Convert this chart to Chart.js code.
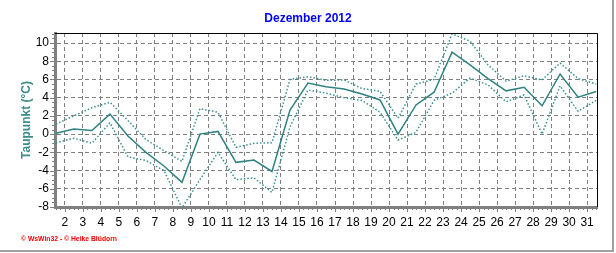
<!DOCTYPE html>
<html>
<head>
<meta charset="utf-8">
<script src="https://cdn.jsdelivr.net/npm/chart.js@4/dist/chart.umd.min.js"></script>
<style>
html, body { margin: 0; padding: 0; background: #ffffff; }
#wrap { position: relative; width: 616px; height: 253px; }
canvas { display: block; }
</style>
</head>
<body>
<div id="wrap"><canvas id="c" width="616" height="253"></canvas></div>
<script>
// ---- data ----
const chartTitle = 'Dezember 2012';
const yAxisTitle = 'Taupunkt (°C)';
const footerText = '\u00A9 WsWin32 - \u00A9 Heike Bl\u00FCdorn';

const days = [1,2,3,4,5,6,7,8,9,10,11,12,13,14,15,16,17,18,19,20,21,22,23,24,25,26,27,28,29,30,31];
const dewMean = [0.1,0.55,0.4,2.2,-0.2,-2.0,-3.5,-5.3,0.0,0.3,-3.1,-2.85,-4.1,2.65,5.6,5.2,4.95,4.4,3.75,0.0,3.2,4.6,9.0,7.6,6.1,4.75,5.15,3.1,6.6,4.05,4.67];
const dewMax  = [1.1,2.0,2.9,3.5,1.5,-0.6,-1.8,-3.0,2.8,2.4,-1.45,-1.0,-0.95,6.0,6.3,5.9,5.95,5.0,4.7,1.75,5.5,6.0,11.0,10.2,7.6,5.8,6.4,5.95,7.8,6.1,5.5];
const dewMin  = [-0.95,-0.45,-1.0,1.25,-2.5,-2.9,-4.0,-8.1,-5.0,-2.0,-5.0,-4.8,-6.4,0.8,4.85,4.5,4.0,3.7,2.4,-0.65,0.2,3.7,4.5,6.15,5.4,3.55,4.3,0.0,5.3,2.5,3.7];
const xTickLabels = [2,3,4,5,6,7,8,9,10,11,12,13,14,15,16,17,18,19,20,21,22,23,24,25,26,27,28,29,30,31];
const yTickValues = [-8,-6,-4,-2,0,2,4,6,8,10];

// daily values are plotted at the middle of their day
const toPoints = arr => days.map((d, i) => ({ x: d + 0.5, y: arr[i] }));

const teal = '#2f8282';
const tealDot = '#3a8f8f';
const FONT = 'Arial, "Liberation Sans", sans-serif';

const decor = {
  id: 'decor',
  afterDraw(chart) {
    const ctx = chart.ctx;
    const a = chart.chartArea;
    const xs = chart.scales.x, ys = chart.scales.y;
    ctx.save();
    // title
    ctx.fillStyle = '#0000ff';
    ctx.font = 'bold 12px ' + FONT;
    ctx.textAlign = 'center';
    ctx.textBaseline = 'middle';
    ctx.fillText(chartTitle, 308, 19);
    // footer
    ctx.fillStyle = '#ff0000';
    ctx.font = 'bold 7px ' + FONT;
    ctx.textAlign = 'left';
    ctx.fillText(footerText, 21, 239, 96);
    // top/right black frame
    ctx.strokeStyle = '#000000';
    ctx.lineWidth = 1;
    ctx.beginPath();
    ctx.moveTo(a.left, a.top + 0.5);
    ctx.lineTo(a.right + 0.5, a.top + 0.5);
    ctx.lineTo(a.right + 0.5, a.bottom);
    ctx.stroke();
    // minor ticks x axis
    ctx.strokeStyle = '#808080';
    ctx.beginPath();
    for (let v = Math.ceil(xs.min * 4) / 4; v <= xs.max; v += 0.25) {
      const px = Math.round(xs.getPixelForValue(v)) + 0.5;
      const isDay = Math.abs(v - Math.round(v)) < 1e-6;
      ctx.moveTo(px, a.bottom + 1);
      ctx.lineTo(px, a.bottom + (isDay ? 5 : 3));
    }
    // minor ticks y axis
    for (let v = -8; v <= ys.max; v += 0.5) {
      const py = Math.round(ys.getPixelForValue(v)) + 0.5;
      const isMaj = Math.abs(v / 2 - Math.round(v / 2)) < 1e-6;
      ctx.moveTo(a.left - 1, py);
      ctx.lineTo(a.left - (isMaj ? 5 : 3), py);
    }
    ctx.stroke();
    // picture frame (right / bottom)
    ctx.fillStyle = '#a0a0a0';
    ctx.fillRect(612, 0, 2, 252);
    ctx.fillRect(0, 250, 614, 2);
    ctx.restore();
  }
};

new Chart(document.getElementById('c'), {
  type: 'line',
  data: {
    datasets: [
      { label: 'Max', data: toPoints(dewMax), borderColor: tealDot, borderWidth: 1.5, borderDash: [1.5, 2], pointRadius: 0, tension: 0, fill: false },
      { label: 'Min', data: toPoints(dewMin), borderColor: tealDot, borderWidth: 1.5, borderDash: [1.5, 2], pointRadius: 0, tension: 0, fill: false },
      { label: 'Mittel', data: toPoints(dewMean), borderColor: teal, borderWidth: 1.5, pointRadius: 0, tension: 0, fill: false }
    ]
  },
  options: {
    responsive: false,
    animation: false,
    devicePixelRatio: 1,
    layout: { padding: { left: 0, right: 19, top: 33, bottom: 0 } },
    plugins: { legend: { display: false }, tooltip: { enabled: false }, title: { display: false } },
    scales: {
      x: {
        type: 'linear',
        min: 1.45,
        max: 31.55,
        afterBuildTicks: s => { s.ticks = xTickLabels.map(v => ({ value: v })); },
        afterFit: s => { s.height = 46; },
        ticks: { autoSkip: false, maxRotation: 0, padding: 8, color: '#000000', font: { family: FONT, size: 12 }, callback: v => String(v) },
        grid: { color: '#808080', lineWidth: 1, drawTicks: false },
        border: { display: true, color: '#808080', width: 3, dash: [4, 3] }
      },
      y: {
        type: 'linear',
        min: -8,
        max: 11.1,
        afterBuildTicks: s => { s.ticks = yTickValues.map(v => ({ value: v })); },
        afterFit: s => { s.width = 55; },
        ticks: { padding: 6, color: '#000000', font: { family: FONT, size: 12 }, callback: v => String(v) },
        grid: { color: '#808080', lineWidth: 1, drawTicks: false },
        border: { display: true, color: '#808080', width: 3, dash: [4, 3] },
        title: { display: true, text: yAxisTitle, color: '#3d8c8c', font: { family: FONT, size: 12, weight: 'bold' }, padding: { top: 19, bottom: 0 } }
      }
    }
  },
  plugins: [decor]
});
</script>
</body>
</html>
